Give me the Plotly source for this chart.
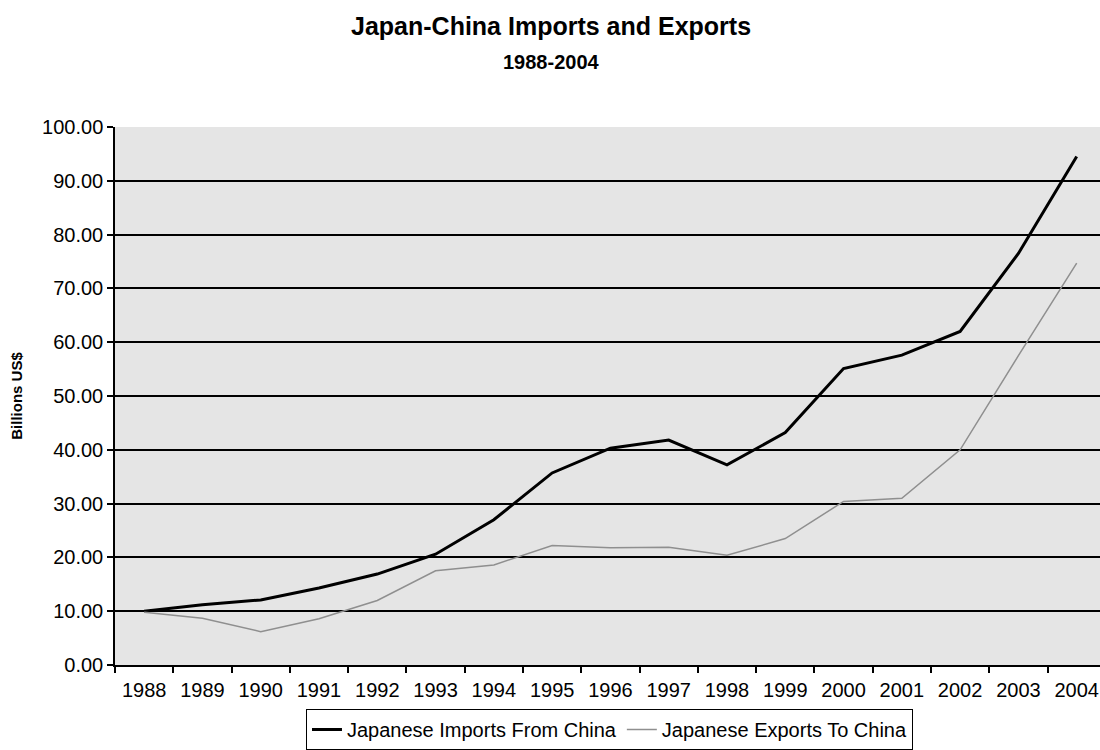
import plotly.graph_objects as go

years = [str(y) for y in range(1988, 2005)]
imports_from_china = [10.0, 11.2, 12.1, 14.3, 16.9, 20.6, 27.0, 35.7, 40.3, 41.8,
                      37.2, 43.2, 55.1, 57.6, 62.0, 76.5, 94.5]
exports_to_china = [9.8, 8.7, 6.2, 8.6, 12.0, 17.5, 18.6, 22.2, 21.8, 21.9,
                    20.4, 23.5, 30.4, 31.0, 40.0, 57.5, 74.7]
y_ticks = [0, 10, 20, 30, 40, 50, 60, 70, 80, 90, 100]

FONT = "Liberation Sans, Arial, sans-serif"

fig = go.Figure()
fig.add_trace(go.Scatter(
    x=years, y=imports_from_china, mode="lines",
    name="Japanese Imports From China",
    line=dict(color="#000000", width=3),
))
fig.add_trace(go.Scatter(
    x=years, y=exports_to_china, mode="lines",
    name="Japanese Exports To China",
    line=dict(color="#8f8f8f", width=1.5),
))

fig.update_layout(
    width=1100, height=750,
    margin=dict(l=115, r=0, t=127, b=85, autoexpand=False),
    paper_bgcolor="white",
    plot_bgcolor="#e5e5e5",
    font=dict(family=FONT, color="black", size=20),
    showlegend=True,
    legend=dict(
        orientation="h",
        x=0.502, xanchor="center",
        yref="container", y=0.0, yanchor="bottom",
        bordercolor="black", borderwidth=1,
        bgcolor="white",
        font=dict(size=20, family=FONT),
        itemwidth=30,
        tracegroupgap=0,
    ),
    annotations=[
        dict(text="<b>Japan-China Imports and Exports</b>",
             xref="paper", yref="paper", x=0.443, y=1.188,
             xanchor="center", yanchor="middle", showarrow=False,
             font=dict(size=25, family=FONT, color="black")),
        dict(text="<b>1988-2004</b>",
             xref="paper", yref="paper", x=0.443, y=1.12,
             xanchor="center", yanchor="middle", showarrow=False,
             font=dict(size=20, family=FONT, color="black")),
    ],
    xaxis=dict(
        type="category",
        range=[-0.5, 16.4],
        tickson="boundaries",
        ticks="outside", ticklen=6, tickwidth=1.5, tickcolor="black",
        ticklabelstandoff=6,
        showline=True, linecolor="black", linewidth=1.5,
        showgrid=False, zeroline=False,
        tickfont=dict(size=20, family=FONT),
    ),
    yaxis=dict(
        range=[0, 100],
        tickvals=y_ticks,
        tickformat=".2f",
        ticks="outside", ticklen=6, tickwidth=1.5, tickcolor="black",
        showline=True, linecolor="black", linewidth=1.5,
        showgrid=True, gridcolor="black", gridwidth=1.5,
        zeroline=False,
        tickfont=dict(size=20, family=FONT),
        title=dict(text="<b>Billions US$</b>", font=dict(size=15, family=FONT), standoff=16),
    ),
)

fig.write_html("out.html")
